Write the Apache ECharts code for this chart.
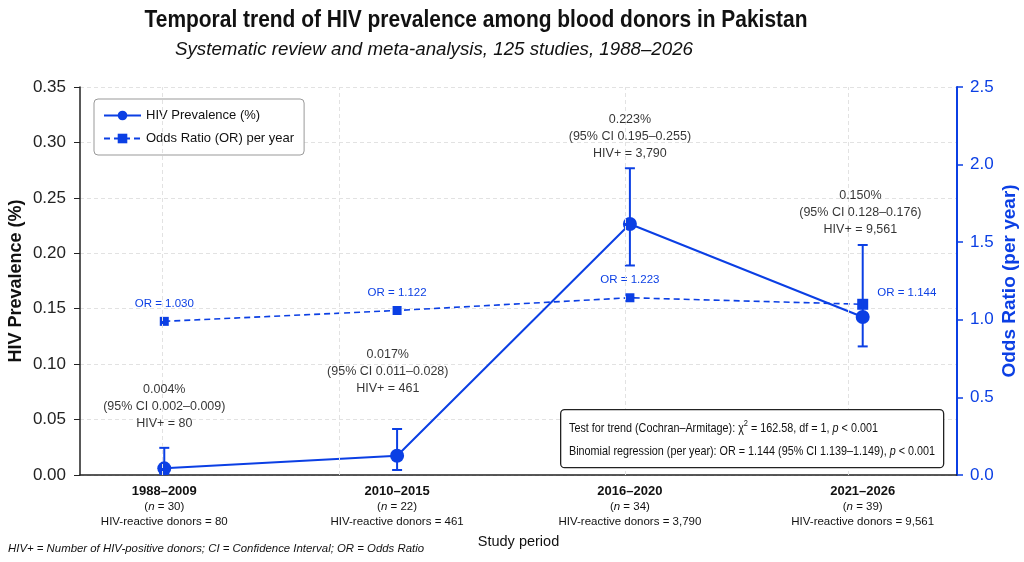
<!DOCTYPE html>
<html>
<head>
<meta charset="utf-8">
<title>HIV prevalence among blood donors in Pakistan</title>
<script src="https://cdn.jsdelivr.net/npm/echarts@6/dist/echarts.min.js"></script>
<style>
html, body { margin: 0; padding: 0; background: #fff; }
#chart { width: 1024px; height: 562px; }
</style>
</head>
<body>
<div id="chart"></div>
<script>
// study periods (x categories)
var periods = ['1988–2009', '2010–2015', '2016–2020', '2021–2026'];
var studies = [30, 22, 34, 39];
var reactive = ['80', '461', '3,790', '9,561'];
var periodPos = [0, 1, 2, 3];

// HIV prevalence (%) as plotted, with the plotted error bars
var prevalence = [0.006, 0.0174, 0.2264, 0.1425];
var errLow = [0.001, 0.0045, 0.189, 0.116];
var errHigh = [0.0245, 0.0415, 0.2767, 0.2075];

// annotation text of each point
var prevText = ['0.004%', '0.017%', '0.223%', '0.150%'];
var ciText = ['0.002–0.009', '0.011–0.028', '0.195–0.255', '0.128–0.176'];
var noteX = [0, 0.96, 2, 2.99];
var noteY = [0.0613, 0.0929, 0.305, 0.2363];

// odds ratio per year (right axis)
var oddsRatio = [0.99, 1.06, 1.142, 1.10];
var orText = ['1.030', '1.122', '1.223', '1.144'];

// left and right axis ticks
var prevTicks = { min: 0, max: 0.35, interval: 0.05 };
var orTicks = { min: 0, max: 2.5, interval: 0.5 };

// faint vertical guide lines of the original
var gridX = [-0.014, 0.746, 1.975, 2.941];

var BLUE = '#0b3fe4';
var FONT = 'Liberation Sans, Arial, sans-serif';

// squeeze a text horizontally to the width it has in the original
var measure = document.createElement('canvas').getContext('2d');
function fitScale(text, font, width) {
    measure.font = font;
    return width / measure.measureText(text).width;
}

var titleText = 'Temporal trend of HIV prevalence among blood donors in Pakistan';
var subText = 'Systematic review and meta-analysis, 125 studies, 1988–2026';
var regText = 'Binomial regression (per year): OR = 1.144 (95% CI 1.139–1.149), p < 0.001';
var footText = 'HIV+ = Number of HIV-positive donors; CI = Confidence Interval; OR = Odds Ratio';

var boxScale = fitScale(regText, '13px Liberation Sans', 366);

var chart = echarts.init(document.getElementById('chart'));

var prevData = periodPos.map(function (x, i) { return [x, prevalence[i]]; });
var orData = periodPos.map(function (x, i) {
    var item = { value: [x, oddsRatio[i]], label: { formatter: 'OR = ' + orText[i] } };
    if (i === 3) {
        item.symbolSize = 11;
        item.label.position = 'right';
        item.label.distance = 9;
        item.label.offset = [0, -11];
    }
    return item;
});
var errData = periodPos.map(function (x, i) { return [x, errLow[i], errHigh[i]]; });
var noteData = noteX.map(function (x, i) { return [x, noteY[i], i]; });

option = {
    backgroundColor: '#fff',
    animation: false,
    legend: {
        orient: 'vertical',
        left: 94, top: 99,
        padding: [10, 10, 10, 9],
        itemGap: 10,
        itemWidth: 37,
        itemHeight: 12,
        backgroundColor: '#fff',
        borderColor: '#999',
        borderWidth: 1,
        borderRadius: 4,
        textStyle: { fontFamily: FONT, fontSize: 13, color: '#111' },
        data: ['HIV Prevalence (%)', 'Odds Ratio (OR) per year']
    },
    grid: { left: 80, right: 67, top: 87, bottom: 87, outerBoundsMode: 'none' },
    xAxis: {
        type: 'value',
        min: -0.362, max: 3.405,
        name: 'Study period',
        nameLocation: 'middle',
        nameGap: 59,
        nameMoveOverlap: false,
        nameTextStyle: { fontFamily: FONT, fontSize: 14.5, color: '#111' },
        axisLine: { onZero: false, lineStyle: { color: '#222', width: 1.5 } },
        axisTick: { show: false },
        splitLine: { show: false },
        axisLabel: {
            customValues: periodPos,
            margin: 8,
            formatter: function (v) {
                var i = periodPos.indexOf(v);
                if (i < 0) return '';
                return '{b|' + periods[i] + '}\n{n|(}{i|n}{n| = ' + studies[i] + ')}\n{n|HIV-reactive donors = ' + reactive[i] + '}';
            },
            rich: {
                b: { fontFamily: FONT, fontSize: 13, fontWeight: 'bold', color: '#111', lineHeight: 16 },
                n: { fontFamily: FONT, fontSize: 11.5, color: '#111', lineHeight: 15 },
                i: { fontFamily: FONT, fontSize: 11.5, fontStyle: 'italic', color: '#111', lineHeight: 15 }
            }
        }
    },
    yAxis: [
        {
            type: 'value',
            min: prevTicks.min, max: prevTicks.max, interval: prevTicks.interval,
            name: 'HIV Prevalence (%)',
            nameLocation: 'middle',
            nameGap: 55,
            nameRotate: 90,
            nameMoveOverlap: false,
            nameTextStyle: { fontFamily: FONT, fontSize: 18, fontWeight: 'bold', color: '#111' },
            axisLine: { show: true, onZero: false, lineStyle: { color: '#222', width: 1.5 } },
            axisTick: { show: true, length: 6, lineStyle: { color: '#222' } },
            axisLabel: {
                margin: 14,
                fontFamily: FONT, fontSize: 17, color: '#222',
                formatter: function (v) { return v.toFixed(2); }
            },
            splitLine: { show: true, lineStyle: { color: '#e2e2e2', type: [4, 3], width: 1 } }
        },
        {
            type: 'value',
            position: 'right',
            min: orTicks.min, max: orTicks.max, interval: orTicks.interval,
            name: 'Odds Ratio (per year)',
            nameLocation: 'middle',
            nameGap: 43,
            nameRotate: 90,
            nameMoveOverlap: false,
            nameTextStyle: { fontFamily: FONT, fontSize: 19, fontWeight: 'bold', color: BLUE },
            axisLine: { show: true, onZero: false, lineStyle: { color: BLUE, width: 2 } },
            axisTick: { show: true, length: 6, lineStyle: { color: BLUE, width: 1.5 } },
            axisLabel: {
                margin: 13,
                fontFamily: FONT, fontSize: 17, color: BLUE,
                formatter: function (v) { return v.toFixed(1); }
            },
            splitLine: { show: false }
        }
    ],
    series: [
        {
            // guide lines only
            name: 'guides',
            type: 'line',
            data: [],
            z: 0,
            silent: true,
            markLine: {
                silent: true,
                symbol: 'none',
                label: { show: false },
                lineStyle: { color: '#e2e2e2', type: [4, 3], width: 1 },
                data: gridX.map(function (v) { return { xAxis: v }; })
            }
        },
        {
            name: 'Odds Ratio (OR) per year',
            type: 'line',
            yAxisIndex: 1,
            data: orData,
            z: 2,
            symbol: 'rect',
            symbolSize: 9,
            lineStyle: { color: BLUE, width: 1.6, type: [6, 4] },
            itemStyle: { color: BLUE },
            label: {
                show: true,
                position: 'top',
                distance: 7,
                fontFamily: FONT, fontSize: 11.5, color: BLUE
            }
        },
        {
            name: 'errors',
            type: 'custom',
            data: errData,
            z: 3,
            encode: { x: 0, y: [1, 2] },
            renderItem: function (params, api) {
                var x = api.value(0);
                var lo = api.coord([x, api.value(1)]);
                var hi = api.coord([x, api.value(2)]);
                var w = 5;
                var st = { stroke: BLUE, lineWidth: 2 };
                return {
                    type: 'group',
                    children: [
                        { type: 'line', shape: { x1: hi[0], y1: hi[1], x2: lo[0], y2: lo[1] }, style: st },
                        { type: 'line', shape: { x1: hi[0] - w, y1: hi[1], x2: hi[0] + w, y2: hi[1] }, style: st },
                        { type: 'line', shape: { x1: lo[0] - w, y1: lo[1], x2: lo[0] + w, y2: lo[1] }, style: st }
                    ]
                };
            }
        },
        {
            name: 'HIV Prevalence (%)',
            type: 'line',
            data: prevData,
            z: 4,
            symbol: 'circle',
            symbolSize: 14,
            lineStyle: { color: BLUE, width: 2 },
            itemStyle: { color: BLUE }
        },
        {
            name: 'notes',
            type: 'scatter',
            data: noteData,
            z: 5,
            symbolSize: 0,
            silent: true,
            label: {
                show: true,
                position: 'inside',
                align: 'center',
                verticalAlign: 'middle',
                fontFamily: FONT, fontSize: 12.5, color: '#000', lineHeight: 17,
                formatter: function (p) {
                    var i = p.value[2];
                    return prevText[i] + '\n(95% CI ' + ciText[i] + ')\nHIV+ = ' + reactive[i];
                }
            }
        }
    ],
    graphic: [
        {
            type: 'text',
            x: 476, y: 8,
            scaleX: fitScale(titleText, 'bold 24px Liberation Sans', 663),
            style: {
                text: titleText, align: 'center', verticalAlign: 'top',
                fontFamily: FONT, fontSize: 24, fontWeight: 'bold', fill: '#111'
            }
        },
        {
            type: 'text',
            x: 434, y: 40,
            scaleX: fitScale(subText, 'italic 19px Liberation Sans', 518),
            style: {
                text: subText, align: 'center', verticalAlign: 'top',
                fontFamily: FONT, fontSize: 19, fontStyle: 'italic', fill: '#111'
            }
        },
        {
            type: 'rect',
            left: 560, top: 409,
            shape: { width: 383, height: 58, r: 4 },
            style: { fill: '#fff', stroke: '#222', lineWidth: 1.3 },
            z: 10
        },
        {
            type: 'text',
            x: 569, y: 419,
            scaleX: boxScale,
            z: 11,
            style: {
                text: '{t|Test for trend (Cochran–Armitage): χ}{s|2}{t| = 162.58, df = 1, }{i|p}{t| < 0.001}',
                verticalAlign: 'top',
                rich: {
                    t: { fontFamily: FONT, fontSize: 13, fill: '#111' },
                    i: { fontFamily: FONT, fontSize: 13, fontStyle: 'italic', fill: '#111' },
                    s: { fontFamily: FONT, fontSize: 9, fill: '#111', padding: [0, 0, 9, 0] }
                }
            }
        },
        {
            type: 'text',
            x: 569, y: 445,
            scaleX: boxScale,
            z: 11,
            style: {
                text: '{t|Binomial regression (per year): OR = 1.144 (95% CI 1.139–1.149), }{i|p}{t| < 0.001}',
                verticalAlign: 'top',
                rich: {
                    t: { fontFamily: FONT, fontSize: 13, fill: '#111' },
                    i: { fontFamily: FONT, fontSize: 13, fontStyle: 'italic', fill: '#111' }
                }
            }
        },
        {
            type: 'text',
            x: 8, y: 543,
            scaleX: fitScale(footText, 'italic 11px Liberation Sans', 416),
            style: {
                text: footText, verticalAlign: 'top',
                fontFamily: FONT, fontSize: 11, fontStyle: 'italic', fill: '#111'
            }
        }
    ]
};

chart.setOption(option);
</script>
</body>
</html>
